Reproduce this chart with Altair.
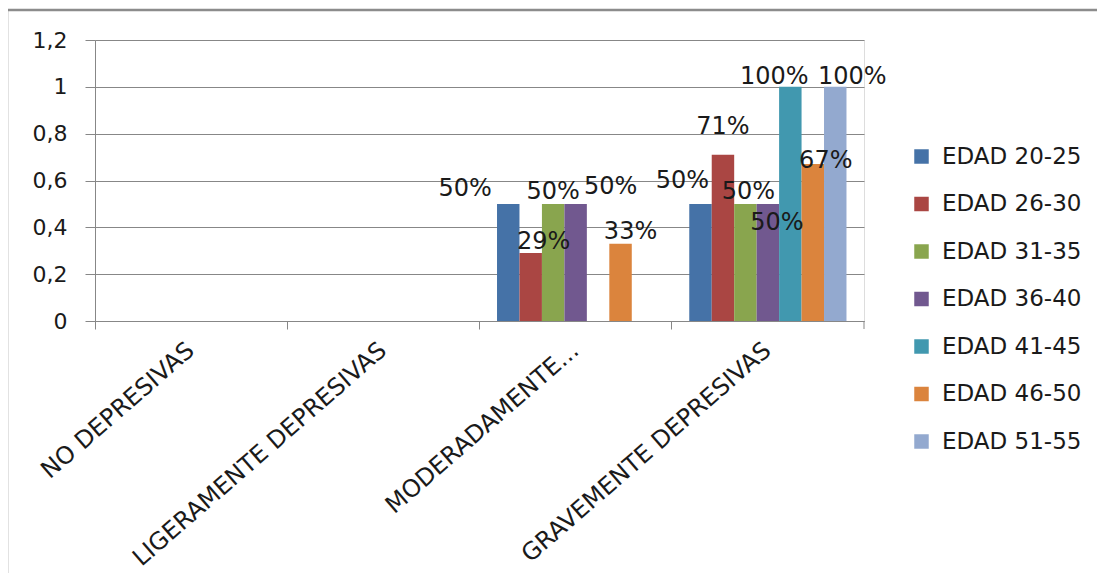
import altair as alt
import pandas as pd

categories = ["NO DEPRESIVAS", "LIGERAMENTE DEPRESIVAS", "MODERADAMENTE...", "GRAVEMENTE DEPRESIVAS"]
series = ["EDAD 20-25", "EDAD 26-30", "EDAD 31-35", "EDAD 36-40", "EDAD 41-45", "EDAD 46-50", "EDAD 51-55"]
colors = ["#4572A7", "#AA4643", "#89A54E", "#71588F", "#4198AF", "#DB843D", "#93A9CF"]

# values per category (None = no bar)
no_depresivas = [None] * 7
ligeramente = [None] * 7
moderadamente = [0.5, 0.29, 0.5, 0.5, None, 0.33, None]
gravemente = [0.5, 0.71, 0.5, 0.5, 1.0, 0.67, 1.0]

# label nudges (pixels) imitating the manual label placement of the original
nudge_moderada = [(-43, -15), (13, -11), (0, -12), (35, -17), None, (10, -12), None]
nudge_grave = [(-18, -23), (0, -28), (3, -12), (9, 19), (-16, -10), (13, -3), (17, -10)]

rows = []
for cat, vals in zip(categories, [no_depresivas, ligeramente, moderadamente, gravemente]):
    for s, v in zip(series, vals):
        if v is not None:
            rows.append({"cat": cat, "serie": s, "valor": v})
df = pd.DataFrame(rows)

FONT = "DejaVu Sans"

x_enc = alt.X("cat:N", sort=categories,
              scale=alt.Scale(domain=categories, paddingInner=0, paddingOuter=0),
              axis=alt.Axis(title=None, bandPosition=0, labelAngle=319,
                            labelAlign="right", labelBaseline="middle", labelPadding=18,
                            tickSize=8, labelFontSize=24, labelFont=FONT, labelColor="#1a1a1a",
                            domainColor="#878787", tickColor="#878787", grid=False,
                            labelLimit=400))
xoff_enc = alt.XOffset("serie:N", sort=series,
                       scale=alt.Scale(domain=series, paddingInner=0, paddingOuter=0.78))
y_enc = alt.Y("valor:Q", scale=alt.Scale(domain=[0, 1.2]),
              axis=alt.Axis(title=None, values=[0, 0.2, 0.4, 0.6, 0.8, 1.0, 1.2],
                            labelExpr="replace(format(datum.value, '.1~f'), '.', ',')",
                            tickSize=10, labelPadding=18, labelFontSize=22, labelFont=FONT,
                            labelColor="#1a1a1a", domainColor="#878787", tickColor="#878787",
                            gridColor="#878787", gridWidth=1))

bars = alt.Chart(df).mark_bar(stroke=None).encode(
    x=x_enc,
    xOffset=xoff_enc,
    y=y_enc,
    color=alt.Color("serie:N", sort=series,
                    scale=alt.Scale(domain=series, range=colors),
                    legend=alt.Legend(title=None, orient="none", legendX=815, legendY=105,
                                      symbolType="square", symbolSize=210, symbolStrokeWidth=0,
                                      labelFontSize=23, labelFont=FONT, labelColor="#1a1a1a",
                                      rowPadding=23.5, labelOffset=9, padding=0)),
)

label_layers = []
for cat, nudges in [(categories[2], nudge_moderada), (categories[3], nudge_grave)]:
    for s, n in zip(series, nudges):
        if n is None:
            continue
        label_layers.append(
            alt.Chart(df).transform_filter(
                (alt.datum.cat == cat) & (alt.datum.serie == s)
            ).mark_text(baseline="middle", align="center", dx=n[0], dy=n[1],
                        fontSize=24, font=FONT, color="#1a1a1a").encode(
                x=alt.X("cat:N", sort=categories),
                xOffset=alt.XOffset("serie:N", sort=series),
                y=alt.Y("valor:Q"),
                text=alt.Text("valor:Q", format=".0%"),
            )
        )

one = pd.DataFrame({"a": [0]})
frame_top = alt.Chart(one).mark_rule(color="#8c8c8c", strokeWidth=2.5).encode(
    x=alt.value(-88), x2=alt.value(2000), y=alt.value(-30))
frame_left = alt.Chart(one).mark_rule(color="#8c8c8c", strokeWidth=2.5).encode(
    x=alt.value(-88), y=alt.value(-30), y2=alt.value(2000))
last_tick = alt.Chart(one).mark_rule(color="#878787", strokeWidth=1).encode(
    x=alt.value(769), y=alt.value(281), y2=alt.value(289))

chart = alt.layer(bars, *label_layers, frame_top, frame_left, last_tick).properties(
    width=769, height=281,
    autosize=alt.AutoSizeParams(type="none"),
    padding={"left": 87, "top": 32, "right": 233, "bottom": 252},
).configure_view(stroke=None).configure(background="white")

chart.save("out.html", embed_options={"renderer": "svg", "actions": False})
